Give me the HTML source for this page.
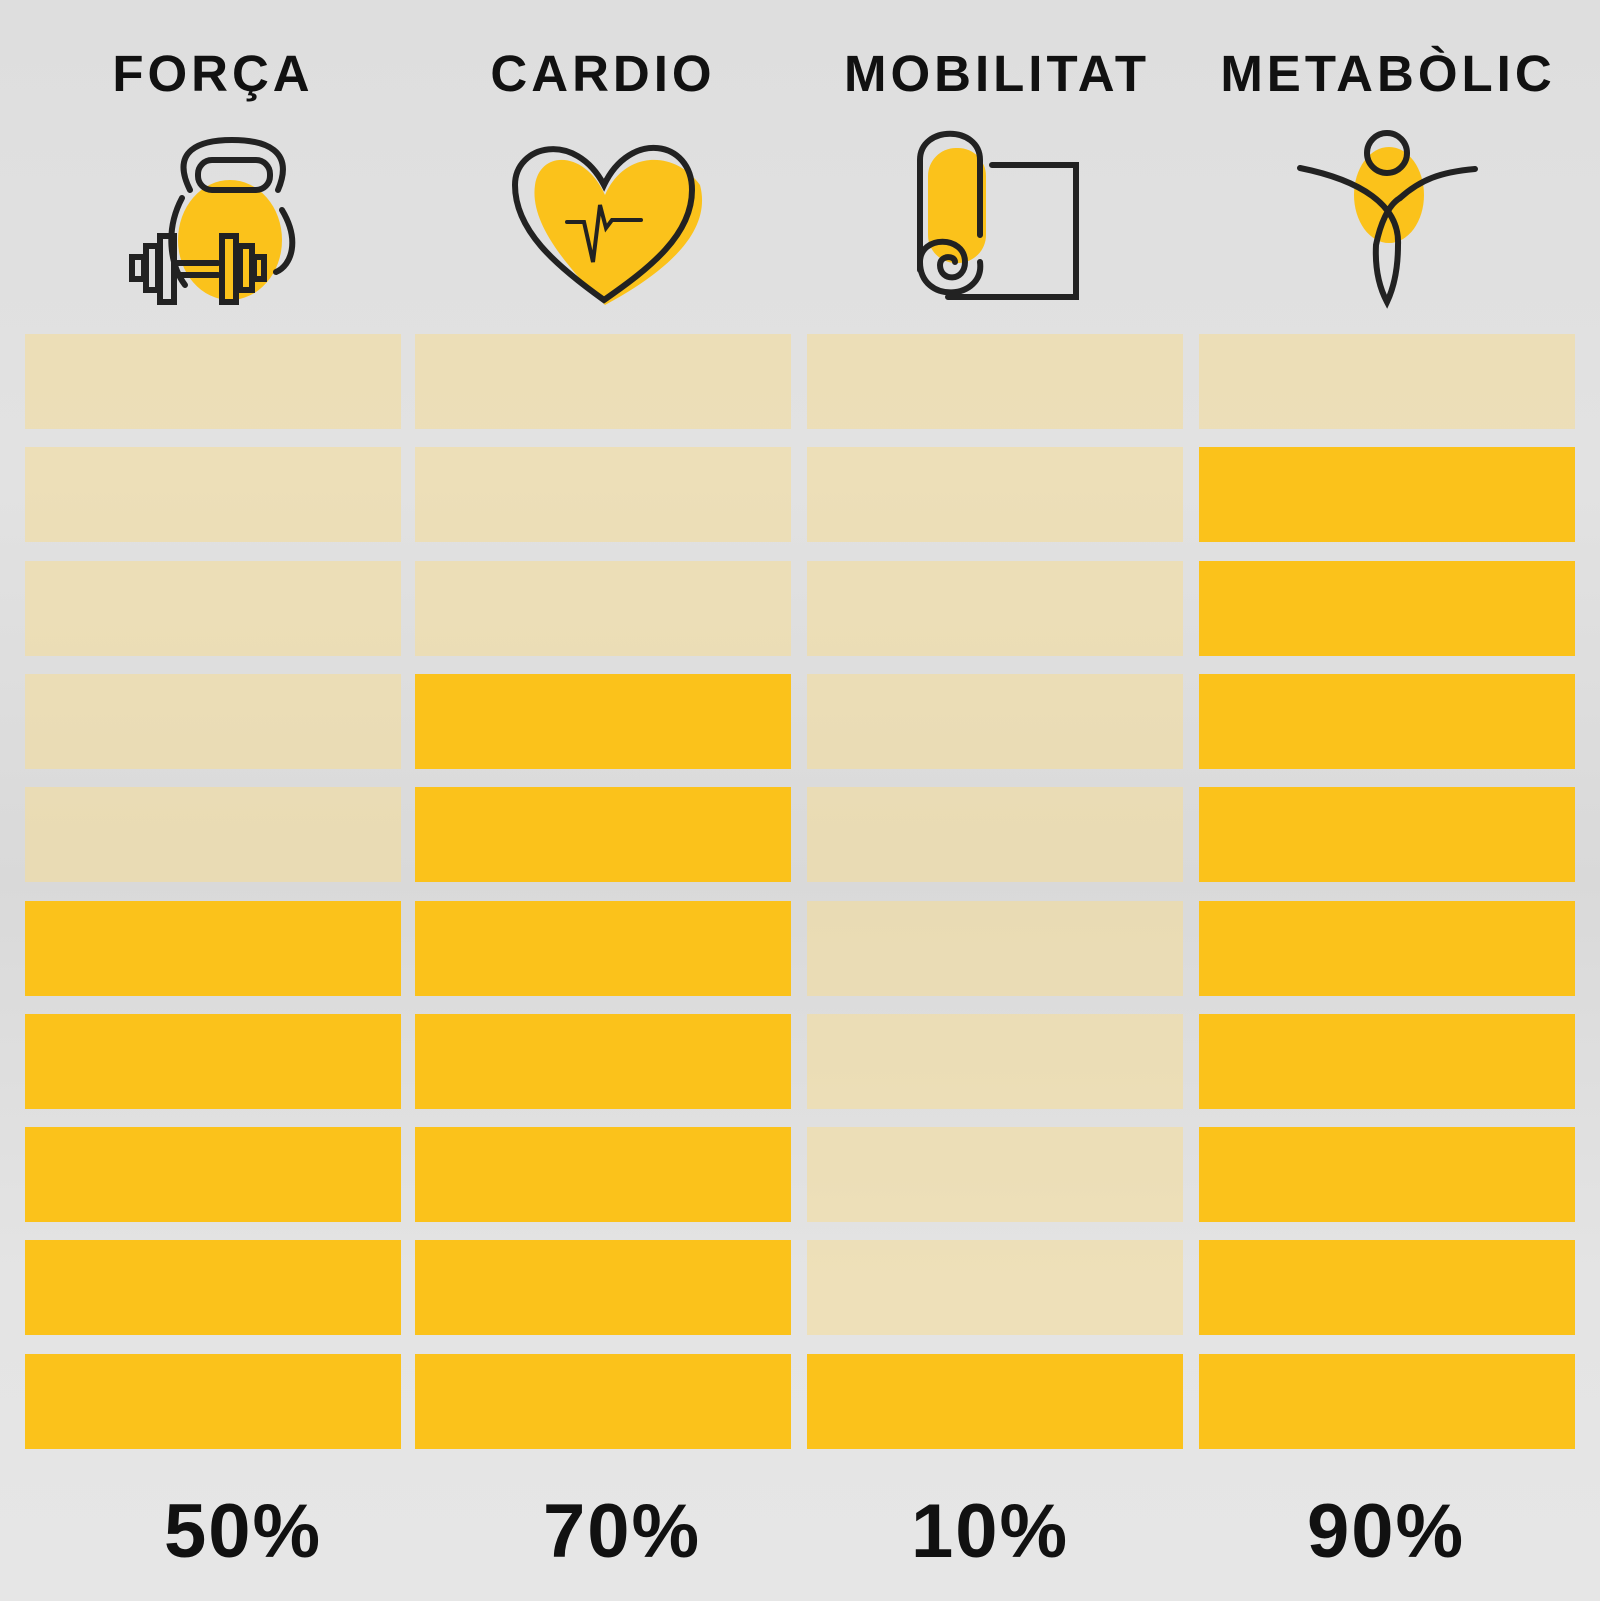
<!DOCTYPE html>
<html><head><meta charset="utf-8"><style>
html,body{margin:0;padding:0}
body{width:1600px;height:1601px;position:relative;overflow:hidden;background:linear-gradient(180deg,#dedede 0%,#e2e2e2 30%,#d9d9d9 55%,#e4e4e4 80%,#e6e6e6 100%);font-family:"Liberation Sans",sans-serif}
.h{position:absolute;top:44px;width:400px;text-align:center;font-weight:bold;font-size:51px;letter-spacing:4px;color:#111}
.p{position:absolute;top:1488px;width:400px;text-align:center;font-weight:bold;font-size:76px;color:#111;letter-spacing:2px}
.c{position:absolute;width:376px;height:95px}
.f{background:#fbc21b}.e{background:rgba(245,220,150,0.55)}
</style></head><body>
<div class="h" style="left:13px">FORÇA</div>
<div class="h" style="left:403px">CARDIO</div>
<div class="h" style="left:797px">MOBILITAT</div>
<div class="h" style="left:1188px">METABÒLIC</div>

<svg width="1600" height="330" style="position:absolute;left:0;top:0" fill="none" stroke="#222" stroke-width="6" stroke-linecap="round">
<ellipse cx="230" cy="240" rx="52" ry="60" fill="#fbc21b" stroke="none"/>
<path d="M190 190 C170 150 200 140 232 140 C265 140 295 150 278 190"/>
<rect x="198" y="160" width="72" height="30" rx="14"/>
<path d="M182 198 C165 230 170 265 185 285"/>
<path d="M282 210 C300 240 292 265 276 272"/>
<rect x="132" y="257" width="12" height="22"/><rect x="146" y="246" width="12" height="44"/><rect x="160" y="236" width="14" height="66"/>
<rect x="222" y="236" width="14" height="66"/><rect x="240" y="246" width="12" height="44"/><rect x="254" y="257" width="10" height="22"/>
<line x1="176" y1="263" x2="218" y2="263"/><line x1="176" y1="275" x2="218" y2="275"/>
<path d="M605 305 C560 260 530 220 535 185 C540 150 585 150 605 195 C625 150 675 150 700 185 C712 230 670 270 605 305Z" fill="#fbc21b" stroke="none"/>
<path d="M604 300 C555 265 515 230 515 185 C515 145 575 130 604 185 C630 130 692 140 692 190 C692 235 650 268 604 300Z"/>
<path d="M567 222 L584 222 L593 262 L600 205 L606 228 L612 220 L641 220" stroke-width="4"/>
<rect x="928" y="148" width="58" height="115" rx="28" fill="#fbc21b" stroke="none"/>
<path d="M920 270 L920 160 C920 125 980 125 980 160 L980 235"/>
<path d="M992 165 L1076 165 L1076 297 L948 297"/>
<path d="M980 262 C985 300 920 305 920 262 C920 235 965 235 965 262 C965 282 940 282 940 265 C940 255 955 255 955 262"/>
<ellipse cx="1389" cy="195" rx="35" ry="48" fill="#fbc21b" stroke="none"/>
<circle cx="1387" cy="153" r="20"/>
<path d="M1300 168 C1360 180 1400 205 1398 245 C1398 265 1395 285 1387 302 C1378 285 1375 265 1376 245 C1380 225 1388 205 1400 198"/>
<path d="M1400 198 C1420 180 1440 172 1475 169"/>
</svg>

<div class="p" style="left:43px">50%</div>
<div class="p" style="left:422px">70%</div>
<div class="p" style="left:790px">10%</div>
<div class="p" style="left:1186px">90%</div>

<div id="g"></div>
<script>
var xs=[25,415,807,1199],fills=[5,7,1,9],h='';
for(var c=0;c<4;c++)for(var r=0;r<10;r++){var t=334+r*113.3;var f=(10-r)<=fills[c];
h+='<div class="c '+(f?'f':'e')+'" style="left:'+xs[c]+'px;top:'+t.toFixed(1)+'px"></div>';}
document.getElementById('g').innerHTML=h;
</script>
</body></html>
